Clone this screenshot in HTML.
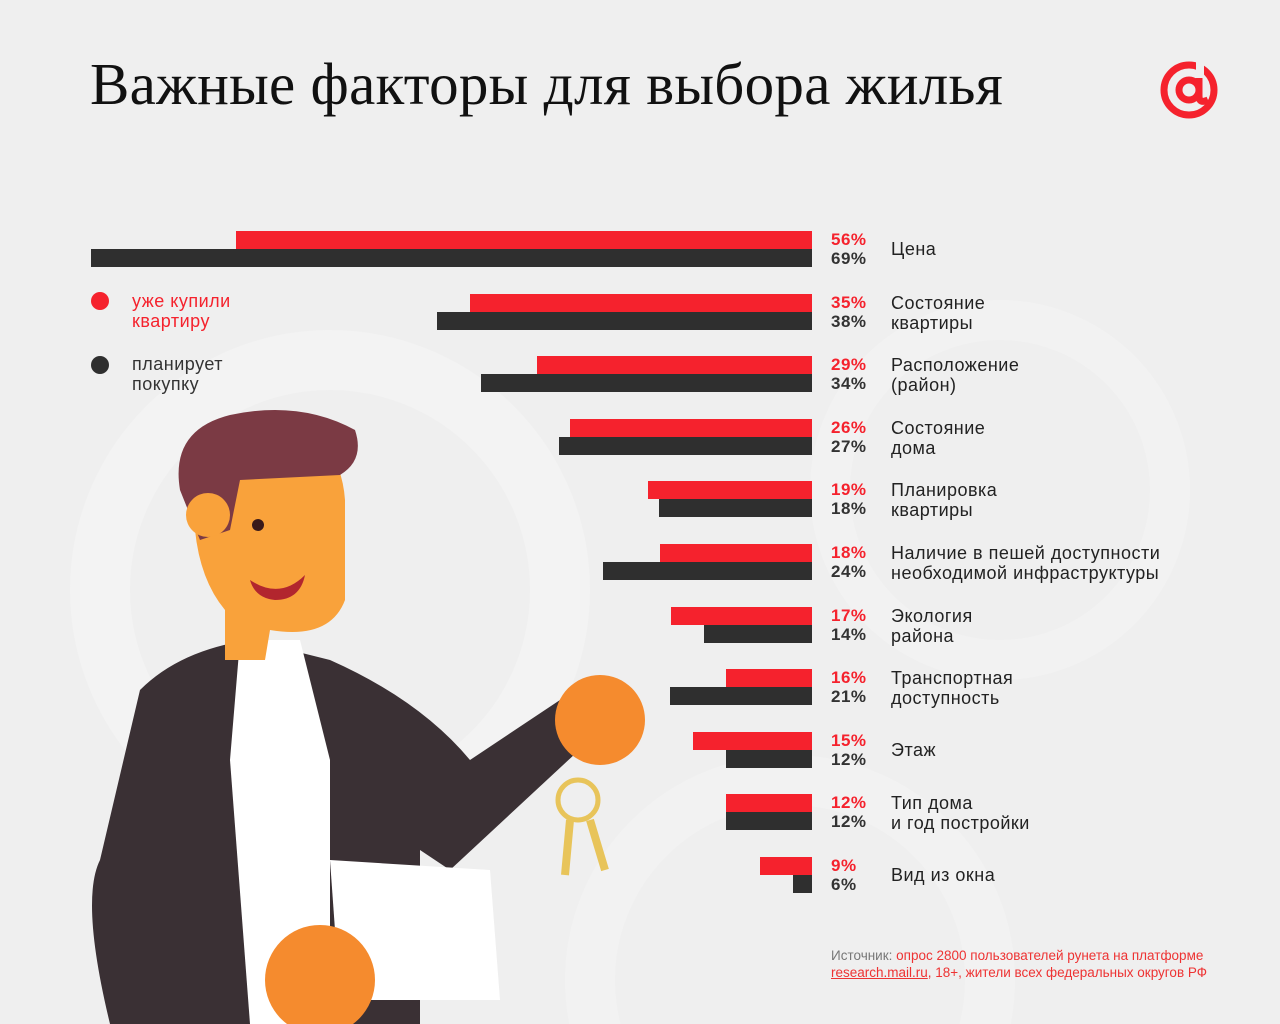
<!DOCTYPE html>
<html style="overflow:hidden"><head><meta charset="utf-8"><style>
html,body{margin:0;width:1280px;height:1024px;overflow:hidden}
body{background:#efefef;position:relative;font-family:"Liberation Sans",sans-serif}
.a{position:absolute}
h1{position:absolute;left:90px;top:50px;margin:0;font-family:"Liberation Serif",serif;font-weight:normal;font-size:59px;color:#111;letter-spacing:0.3px;white-space:nowrap}
.r{background:#f5222d;height:18px}
.k{background:#2f2f2f;height:18px}
.p{font-size:17px;font-weight:bold;left:831px;letter-spacing:0.5px}
.l{font-size:18px;color:#222;left:891px;line-height:20px;letter-spacing:0.5px;white-space:nowrap}
</style></head><body>
<svg class="a" style="left:0;top:0" width="1280" height="1024">
<circle cx="330" cy="590" r="230" fill="none" stroke="#f3f3f3" stroke-width="60"/>
<circle cx="790" cy="980" r="200" fill="none" stroke="#f2f2f2" stroke-width="50"/>
<circle cx="1000" cy="490" r="170" fill="none" stroke="#f2f2f2" stroke-width="40"/>
<circle cx="1189" cy="90" r="25" fill="none" stroke="#f5222d" stroke-width="7"/>
<circle cx="1189" cy="90" r="10" fill="none" stroke="#f5222d" stroke-width="7"/>
<rect x="1196" y="62" width="8" height="30" fill="#efefef"/>
<path d="M1199 78 V96 Q1199 104 1208 100" fill="none" stroke="#f5222d" stroke-width="7"/>
<path d="M140 690 Q180 650 250 640 L330 660 Q420 700 470 760 L560 700 L590 740 L450 870 L420 850 L420 1024 L110 1024 Q80 900 100 860 Z" fill="#3a3034"/>
<path d="M240 640 L300 640 L330 760 L330 1024 L250 1024 L230 760 Z" fill="#fff"/>
<path d="M195 470 Q200 420 270 420 Q340 430 345 500 L345 600 Q330 640 270 630 L265 660 L225 660 L225 610 Q200 580 195 530 Z" fill="#f9a23b"/>
<path d="M180 490 Q170 430 230 415 Q300 400 355 430 Q365 460 340 475 L240 480 L230 530 L200 540 Z" fill="#7b3a44"/>
<circle cx="208" cy="515" r="22" fill="#f9a23b"/>
<path d="M250 580 Q280 600 305 575 Q300 600 275 600 Q255 598 250 580Z" fill="#b2262e"/>
<circle cx="258" cy="525" r="6" fill="#3a1a1a"/>
<circle cx="600" cy="720" r="45" fill="#f58b2e"/>
<path d="M330 860 L490 870 L500 1000 L340 1000 Z" fill="#fff"/>
<circle cx="320" cy="980" r="55" fill="#f58b2e"/>
<circle cx="578" cy="800" r="20" fill="none" stroke="#e8c45a" stroke-width="5"/>
<path d="M570 820 L565 875 M590 820 L605 870" stroke="#e8c45a" stroke-width="8"/>
</svg>
<h1>Важные факторы для выбора жилья</h1>
<div class="a" style="left:91px;top:292px;width:18px;height:18px;border-radius:50%;background:#f5222d"></div>
<div class="a" style="left:91px;top:356px;width:18px;height:18px;border-radius:50%;background:#2f2f2f"></div>
<div class="a" style="left:132px;top:291px;font-size:18px;line-height:20px;color:#f5222d;letter-spacing:0.5px">уже купили<br>квартиру</div>
<div class="a" style="left:132px;top:354px;font-size:18px;line-height:20px;color:#333;letter-spacing:0.5px">планирует<br>покупку</div>
<div id="c"></div>
<div class="a" style="left:831px;top:947px;font-size:13.5px;line-height:17px;color:#777;white-space:nowrap">Источник: <span style="color:#e33">опрос 2800 пользователей рунета на платформе<br><u>research.mail.ru</u>, 18+, жители всех федеральных округов РФ</span></div>
<script>
var d=[[56,69,"Цена",236,91],[35,38,"Состояние<br>квартиры",470,437],[29,34,"Расположение<br>(район)",537,481],[26,27,"Состояние<br>дома",570,559],[19,18,"Планировка<br>квартиры",648,659],[18,24,"Наличие в пешей доступности<br>необходимой инфраструктуры",660,603],[17,14,"Экология<br>района",671,704],[16,21,"Транспортная<br>доступность",726,670],[15,12,"Этаж",693,726],[12,12,"Тип дома<br>и год постройки",726,726],[9,6,"Вид из окна",760,793]];
var h="";
d.forEach(function(e,i){var y=Math.round(231+i*62.6);
h+='<div class="a r" style="top:'+y+'px;left:'+e[3]+'px;width:'+(812-e[3])+'px"></div>';
h+='<div class="a k" style="top:'+(y+18)+'px;left:'+e[4]+'px;width:'+(812-e[4])+'px"></div>';
h+='<div class="a p" style="top:'+(y-1)+'px;color:#f5222d">'+e[0]+'%</div>';
h+='<div class="a p" style="top:'+(y+18)+'px;color:#333">'+e[1]+'%</div>';
var two=e[2].indexOf("<br>")>=0;
h+='<div class="a l" style="top:'+(two?y-1:y+8)+'px">'+e[2]+'</div>';});
document.getElementById("c").innerHTML=h;
</script>
</body></html>
